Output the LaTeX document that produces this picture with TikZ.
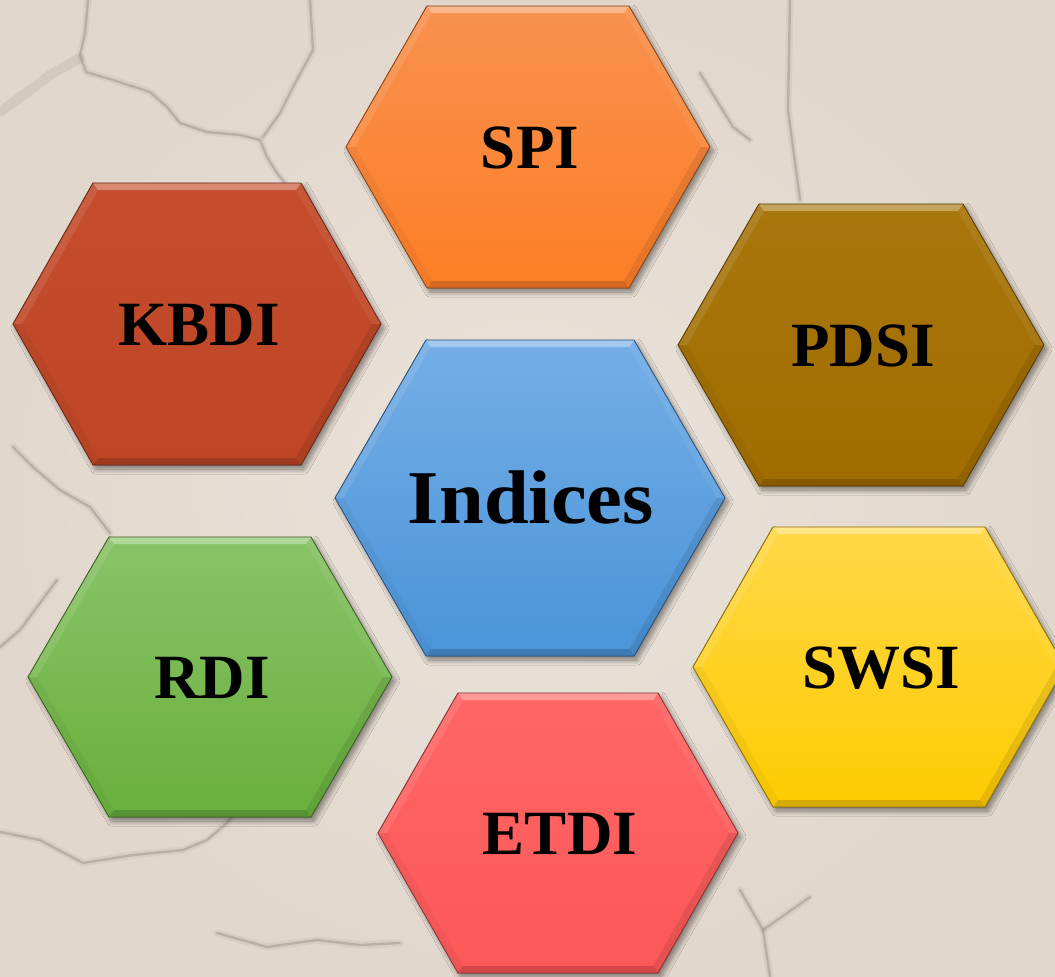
\documentclass[tikz,border=0pt]{standalone}
\usepackage{fontspec}
\setmainfont{Liberation Serif}
\usetikzlibrary{shadows.blur}

% ground and crack tones
\definecolor{groundin}{HTML}{EBE3DA}
\definecolor{groundout}{HTML}{E1D7CD}
\definecolor{crack}{HTML}{958B83}
% cell colours (top / bottom of each gradient)
\definecolor{spiT}{HTML}{F8914F}\definecolor{spiB}{HTML}{FD7E26}
\definecolor{kbdiT}{HTML}{C54C2C}\definecolor{kbdiB}{HTML}{BE4626}
\definecolor{pdsiT}{HTML}{A8760C}\definecolor{pdsiB}{HTML}{A06D00}
\definecolor{indT}{HTML}{74AEE6}\definecolor{indB}{HTML}{4A94D9}
\definecolor{rdiT}{HTML}{89C368}\definecolor{rdiB}{HTML}{69B03C}
\definecolor{swsiT}{HTML}{FFD848}\definecolor{swsiB}{HTML}{FECB00}
\definecolor{etdiT}{HTML}{FF6666}\definecolor{etdiB}{HTML}{FC5858}

\tikzset{
  crackhalo/.style={draw=crack, line width=7pt, opacity=.13, line join=round, line cap=round},
  crackline/.style={draw=crack, line width=2.4pt, opacity=.45, line join=round, line cap=round},
  cellshadow/.style={blur shadow={shadow xshift=3pt, shadow yshift=-4pt,
      shadow blur radius=5pt, shadow opacity=45, shadow blur steps=10}},
  lbl/.style={anchor=base, inner sep=0pt, text=black,
      font=\fontsize{63}{63}\selectfont\bfseries},
  biglbl/.style={anchor=base, inner sep=0pt, text=black, xscale=1.06,
      font=\fontsize{76}{76}\selectfont\bfseries},
}

% #1 id, #2 cx, #3 cy, #4 half width, #5 half top edge, #6 half height,
% #7 top colour, #8 bottom colour
\newcommand\hexcell[8]{%
  \begin{scope}[shift={(#2,#3)}]
    \coordinate (#1-o1) at (-#4,0);
    \coordinate (#1-o2) at (-#5,-#6);
    \coordinate (#1-o3) at (#5,-#6);
    \coordinate (#1-o4) at (#4,0);
    \coordinate (#1-o5) at (#5,#6);
    \coordinate (#1-o6) at (-#5,#6);
    \begin{scope}[scale={(#6-7)/#6}]
      \coordinate (#1-i1) at (-#4,0);
      \coordinate (#1-i2) at (-#5,-#6);
      \coordinate (#1-i3) at (#5,-#6);
      \coordinate (#1-i4) at (#4,0);
      \coordinate (#1-i5) at (#5,#6);
      \coordinate (#1-i6) at (-#5,#6);
    \end{scope}
  \end{scope}
  \fill[cellshadow, top color=#7, bottom color=#8]
    (#1-o1) -- (#1-o2) -- (#1-o3) -- (#1-o4) -- (#1-o5) -- (#1-o6) -- cycle;
  % bevel bands
  \fill[white, opacity=.34] (#1-o2) -- (#1-o3) -- (#1-i3) -- (#1-i2) -- cycle;
  \fill[white, opacity=.10] (#1-o1) -- (#1-o2) -- (#1-i2) -- (#1-i1) -- cycle;
  \fill[white, opacity=.06] (#1-o3) -- (#1-o4) -- (#1-i4) -- (#1-i3) -- cycle;
  \fill[black, opacity=.09] (#1-o4) -- (#1-o5) -- (#1-i5) -- (#1-i4) -- cycle;
  \fill[black, opacity=.16] (#1-o5) -- (#1-o6) -- (#1-i6) -- (#1-i5) -- cycle;
  \fill[black, opacity=.04] (#1-o6) -- (#1-o1) -- (#1-i1) -- (#1-i6) -- cycle;
  \draw[draw=#8!55!black, line width=.8pt, line join=round]
    (#1-o1) -- (#1-o2) -- (#1-o3) -- (#1-o4) -- (#1-o5) -- (#1-o6) -- cycle;
}

\begin{document}
\begin{tikzpicture}[x=1pt, y=-1pt]
  \useasboundingbox (0,0) rectangle (1055,977);
  \clip (0,0) rectangle (1055,977);

  % dry ground
  \fill[inner color=groundin, outer color=groundout] (0,0) rectangle (1055,977);

  % cracks in the ground
  \foreach \sty in {crackhalo, crackline} {
    \draw[\sty] (88,0) -- (85,33) -- (80,55) -- (86,72) -- (113,80) -- (150,92)
      -- (167,107) -- (180,123) -- (207,132) -- (240,135) -- (260,140)
      -- (267,157) -- (277,173) -- (292,192);
    \draw[\sty] (310,0) -- (313,50) -- (293,87) -- (280,113) -- (263,137);
    \draw[\sty] (0,832) -- (40,840) -- (83,863) -- (133,855) -- (183,850)
      -- (207,840) -- (227,823) -- (236,812);
    \draw[\sty] (217,933) -- (267,947) -- (317,940) -- (360,945) -- (400,943);
    \draw[\sty] (740,890) -- (763,930) -- (770,977);
    \draw[\sty] (763,930) -- (810,897);
    \draw[\sty] (790,0) -- (788,110) -- (800,200);
    \draw[\sty] (700,73) -- (733,127) -- (750,140);
    \draw[\sty] (13,447) -- (33,467) -- (60,490) -- (90,507) -- (110,533);
    \draw[\sty] (57,580) -- (20,630) -- (0,647);
  }
  \draw[crack, line width=10pt, opacity=.18, line cap=round, line join=round]
    (80,58) -- (50,75) -- (33,88) -- (0,112);

  % hexagonal cells
  \hexcell{spiH}{528}{147}{182}{101}{141}{spiT}{spiB}
  \hexcell{kbdiH}{197}{324}{184}{104}{141}{kbdiT}{kbdiB}
  \hexcell{pdsiH}{861}{345}{183}{102}{141}{pdsiT}{pdsiB}
  \hexcell{rdiH}{210}{677}{182}{101}{140}{rdiT}{rdiB}
  \hexcell{swsiH}{879}{667}{186}{106}{140}{swsiT}{swsiB}
  \hexcell{etdiH}{558}{833}{180}{100}{140}{etdiT}{etdiB}
  \hexcell{indH}{530}{498}{195}{104}{158}{indT}{indB}

  % labels
  \node[lbl] (spi) at (530,168) {SPI};
  \node[lbl] (kbdi) at (199,345) {KBDI};
  \node[lbl] (pdsi) at (863,366) {PDSI};
  \node[lbl] (rdi) at (212,698) {RDI};
  \node[lbl] (swsi) at (881,688) {SWSI};
  \node[lbl] (etdi) at (560,854) {ETDI};
  \node[biglbl] (indices) at (531,523) {Indices};
\end{tikzpicture}
\end{document}
